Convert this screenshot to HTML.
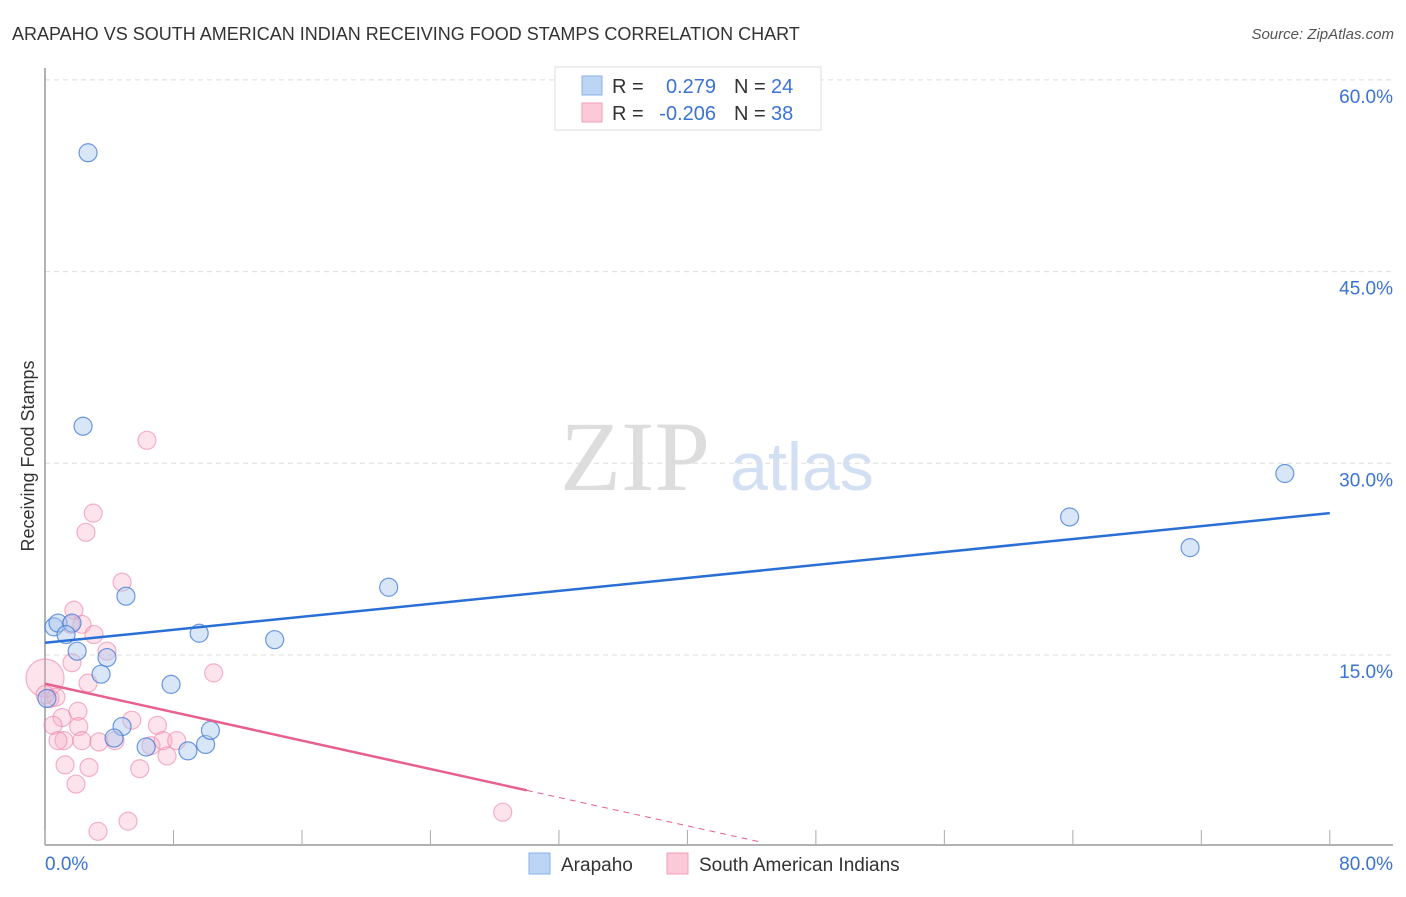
<!DOCTYPE html>
<html><head><meta charset="utf-8"><style>
body{margin:0;background:#fff;font-family:"Liberation Sans",sans-serif;}
svg text{font-family:"Liberation Sans",sans-serif;}
svg text.serif{font-family:"Liberation Serif",serif;}
</style></head><body>
<svg id="c" width="1406" height="892" xmlns="http://www.w3.org/2000/svg">
<text x="12" y="40" font-size="18" fill="#333">ARAPAHO VS SOUTH AMERICAN INDIAN RECEIVING FOOD STAMPS CORRELATION CHART</text>
<text x="1394" y="39" font-size="15" fill="#555" text-anchor="end" font-style="italic">Source: ZipAtlas.com</text>
<text x="34" y="456" font-size="18" fill="#333" text-anchor="middle" transform="rotate(-90 34 456)">Receiving Food Stamps</text>
<g><text class="serif" x="635" y="490" font-size="100" fill="#ddd" text-anchor="middle">ZIP</text><text x="802" y="490" font-size="68" fill="#d3e0f3" text-anchor="middle">atlas</text></g>
<g id="grid"></g><g id="axes"></g><g id="marks"></g>
<g>
<rect x="555" y="67" width="266" height="63" fill="#fff" stroke="#ddd"/>
<rect x="582" y="76" width="20" height="19" fill="#bcd5f5" stroke="#8ab0e8"/>
<rect x="582" y="103" width="20" height="19" fill="#fcc9d8" stroke="#f0a0b8"/>
<text x="612" y="93" font-size="20" fill="#333">R =</text><text x="716" y="93" font-size="20" fill="#3a73d4" text-anchor="end">0.279</text>
<text x="734" y="93" font-size="20" fill="#333">N =</text><text x="771" y="93" font-size="20" fill="#3a73d4">24</text>
<text x="612" y="120" font-size="20" fill="#333">R =</text><text x="716" y="120" font-size="20" fill="#3a73d4" text-anchor="end">-0.206</text>
<text x="734" y="120" font-size="20" fill="#333">N =</text><text x="771" y="120" font-size="20" fill="#3a73d4">38</text>
</g>
<g>
<rect x="529" y="853" width="21" height="21" fill="#bcd5f5" stroke="#8ab0e8"/>
<text x="561" y="871" font-size="19" fill="#333">Arapaho</text>
<rect x="667" y="853" width="21" height="21" fill="#fcc9d8" stroke="#f0a0b8"/>
<text x="699" y="871" font-size="19" fill="#333">South American Indians</text>
</g>
</svg>
<script>
const blueX=[2.68,2.37,0.56,0.81,1.68,1.31,2.0,3.86,3.49,5.04,21.4,9.6,14.3,7.85,0.12,4.8,4.3,6.3,8.9,10.0,10.3,63.8,71.3,77.2];
const blueY=[54.3,32.9,17.2,17.5,17.5,16.6,15.3,14.8,13.5,19.6,20.3,16.7,16.2,12.7,11.6,9.4,8.5,7.8,7.5,8.0,9.1,25.8,23.4,29.2];
const pinkX=[6.35,3.0,2.55,4.8,1.8,2.3,3.05,1.6,3.86,1.68,10.5,0,2.68,0.31,0.68,2.05,1.06,0.5,2.1,1.18,0.81,2.3,3.36,4.36,5.4,6.6,7.0,7.35,7.6,8.2,5.9,2.74,1.25,1.93,3.3,5.17,28.5,0];
const pinkY=[31.8,26.1,24.6,20.7,18.5,17.4,16.6,17.4,15.3,14.4,13.6,13.2,12.8,11.6,11.7,10.6,10.1,9.5,9.4,8.3,8.3,8.3,8.2,8.3,9.9,7.9,9.5,8.3,7.1,8.3,6.1,6.2,6.4,4.9,1.2,2.0,2.7,11.9];
const pinkR=[9,9,9,9,9,9,9,9,9,9,9,19,9,9,9,9,9,9,9,9,9,9,9,9,9,9,9,9,9,9,9,9,9,9,9,9,9,9];
const yTicks=[15,30,45,60];
const yTickLabels=["15.0%","30.0%","45.0%","60.0%"];
const blueTrend=[15.96,26.1];
const pinkTrend=[12.75,-0.278];
const pinkDashEnd=44.5;
const NS="http://www.w3.org/2000/svg";
const X=v=>45+v*16.06, Y=v=>846.7-v*12.78;
function mk(t,a,p){const e=document.createElementNS(NS,t);for(const k in a)e.setAttribute(k,a[k]);p.appendChild(e);return e;}
const grid=document.getElementById('grid'),axes=document.getElementById('axes'),marks=document.getElementById('marks');
yTicks.forEach((t,i)=>{
 const l=mk('line',{x1:45,x2:1393,y1:Y(t),y2:Y(t),stroke:'#ddd','stroke-dasharray':'5,4'},grid);
 
 
 const tx=mk('text',{x:1393,y:Y(t)+23,'font-size':19,fill:'#3a73d4','text-anchor':'end'},axes);tx.textContent=yTickLabels[i];
 
 
});
const ya=mk('line',{x1:45,x2:45,y1:68,y2:845,stroke:'#999','stroke-width':1.5},axes);


const xa=mk('line',{x1:45,x2:1393,y1:845,y2:845,stroke:'#999','stroke-width':1.5},axes);


for(let i=0;i<=10;i++){const t=mk('line',{x1:X(i*8),x2:X(i*8),y1:830,y2:845,stroke:'#aaa'},axes);
 
 }
let t0=mk('text',{x:45,y:870,'font-size':19,fill:'#3a73d4'},axes);t0.textContent='0.0%';


let t1=mk('text',{x:1393,y:870,'font-size':19,fill:'#3a73d4','text-anchor':'end'},axes);t1.textContent='80.0%';


pinkX.forEach((x,i)=>{const c=mk('circle',{cx:X(x),cy:Y(pinkY[i]),r:pinkR[i],fill:'rgba(248,170,195,0.32)',stroke:'rgba(235,130,165,0.6)','stroke-width':1.2},marks);
 
 });
blueX.forEach((x,i)=>{const c=mk('circle',{cx:X(x),cy:Y(blueY[i]),r:9,fill:'rgba(170,200,240,0.45)',stroke:'rgba(60,120,215,0.75)','stroke-width':1.2},marks);
 
 });
const bl=mk('line',{x1:X(0),y1:Y(blueTrend[0]),x2:X(80),y2:Y(blueTrend[1]),stroke:'#2a6fd6','stroke-width':2.5},marks);


const pl=mk('line',{x1:X(0),y1:Y(pinkTrend[0]),x2:X(30),y2:Y(pinkTrend[0]+30*pinkTrend[1]),stroke:'#e8608f','stroke-width':2.5},marks);


const pd=mk('line',{x1:X(30),y1:Y(pinkTrend[0]+30*pinkTrend[1]),x2:X(pinkDashEnd),y2:Y(pinkTrend[0]+pinkDashEnd*pinkTrend[1]),stroke:'#e8608f','stroke-width':1,'stroke-dasharray':'6,5'},marks);


</script>
</body></html>
